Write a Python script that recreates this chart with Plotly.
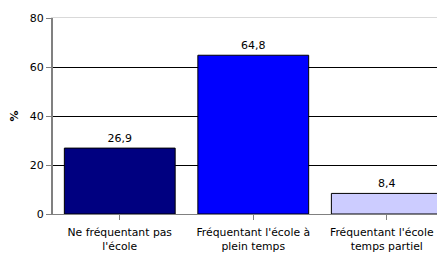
import plotly.graph_objects as go

categories = ["Ne fréquentant pas<br>l'école", "Fréquentant l'école à<br>plein temps", "Fréquentant l'école à<br>temps partiel"]
values = [26.9, 64.8, 8.4]
colors = ["#000080", "#0000FF", "#CCCCFF"]
y_ticks = [0, 20, 40, 60, 80]

FONT = "DejaVu Sans"

fig = go.Figure()
fig.add_trace(go.Bar(
    x=list(range(len(categories))), y=values,
    marker=dict(color=colors, line=dict(color="black", width=1)),
    texttemplate="%{y:.1f}", textposition="outside",
    textfont=dict(family=FONT, size=11, color="black"),
    cliponaxis=False,
))
fig.add_trace(go.Scatter(x=[0], y=[0], xaxis="x2", mode="markers", marker=dict(opacity=0), showlegend=False, hoverinfo="skip"))

# page body has an 8px margin, so the figure is sized/offset to compensate
fig.update_layout(
    width=437, height=247,
    margin=dict(l=45, r=0, t=10, b=41),
    paper_bgcolor="white", plot_bgcolor="white",
    separators=", ",
    bargap=0.17,
    showlegend=False,
    font=dict(family=FONT, size=11, color="black"),
    xaxis=dict(
        tickmode="array", tickvals=list(range(len(categories))), ticktext=categories,
        range=[-0.5, 2.436], showgrid=False, automargin=False,
        showline=True, linecolor="#808080", linewidth=1,
        ticks="outside", ticklen=5, tickcolor="#808080", tickson="boundaries",
        ticklabelstandoff=3,
        tickfont=dict(family=FONT, size=10.8, color="black"),
        zeroline=False, fixedrange=True,
    ),
    xaxis2=dict(
        overlaying="x", side="top", range=[-0.5, 2.436], automargin=False,
        showline=True, linecolor="#D9D9D9", linewidth=1,
        showticklabels=False, ticks="", showgrid=False, zeroline=False,
    ),
    yaxis=dict(
        range=[0, 80], tickvals=y_ticks, automargin=False,
        showgrid=True, gridcolor="black", gridwidth=1,
        showline=True, linecolor="#808080", linewidth=2,
        ticks="outside", ticklen=5, tickcolor="#808080",
        tickfont=dict(family=FONT, size=11, color="black"),
        zeroline=False,
        title=dict(text="<b>%</b>", font=dict(family=FONT, size=11), standoff=11),
    ),
)

fig.write_html("out.html")
